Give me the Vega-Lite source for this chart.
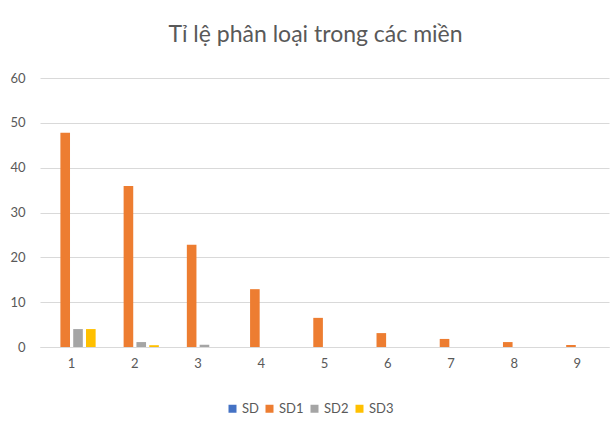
{
  "$schema": "https://vega.github.io/schema/vega-lite/v6.json",
  "width": 569,
  "height": 269,
  "autosize": {"type": "none"},
  "padding": {"left": 40, "top": 78, "right": 5, "bottom": 74},
  "background": "white",
  "title": {
    "text": "Tỉ lệ phân loại trong các miền",
    "font": "Lato",
    "fontSize": 23,
    "fontWeight": "normal",
    "color": "#595959",
    "anchor": "middle",
    "offset": 25,
    "dx": -9
  },
  "data": {
    "values": [
      {"mien": "1", "series": "SD", "value": 0},
      {"mien": "1", "series": "SD1", "value": 47.8},
      {"mien": "1", "series": "SD2", "value": 4.0},
      {"mien": "1", "series": "SD3", "value": 4.0},
      {"mien": "2", "series": "SD", "value": 0},
      {"mien": "2", "series": "SD1", "value": 35.9},
      {"mien": "2", "series": "SD2", "value": 1.1},
      {"mien": "2", "series": "SD3", "value": 0.4},
      {"mien": "3", "series": "SD", "value": 0},
      {"mien": "3", "series": "SD1", "value": 22.8},
      {"mien": "3", "series": "SD2", "value": 0.5},
      {"mien": "3", "series": "SD3", "value": 0},
      {"mien": "4", "series": "SD", "value": 0},
      {"mien": "4", "series": "SD1", "value": 12.9},
      {"mien": "4", "series": "SD2", "value": 0},
      {"mien": "4", "series": "SD3", "value": 0},
      {"mien": "5", "series": "SD", "value": 0},
      {"mien": "5", "series": "SD1", "value": 6.5},
      {"mien": "5", "series": "SD2", "value": 0},
      {"mien": "5", "series": "SD3", "value": 0},
      {"mien": "6", "series": "SD", "value": 0},
      {"mien": "6", "series": "SD1", "value": 3.1},
      {"mien": "6", "series": "SD2", "value": 0},
      {"mien": "6", "series": "SD3", "value": 0},
      {"mien": "7", "series": "SD", "value": 0},
      {"mien": "7", "series": "SD1", "value": 1.8},
      {"mien": "7", "series": "SD2", "value": 0},
      {"mien": "7", "series": "SD3", "value": 0},
      {"mien": "8", "series": "SD", "value": 0},
      {"mien": "8", "series": "SD1", "value": 1.1},
      {"mien": "8", "series": "SD2", "value": 0},
      {"mien": "8", "series": "SD3", "value": 0},
      {"mien": "9", "series": "SD", "value": 0},
      {"mien": "9", "series": "SD1", "value": 0.45},
      {"mien": "9", "series": "SD2", "value": 0},
      {"mien": "9", "series": "SD3", "value": 0}
    ]
  },
  "mark": {"type": "bar"},
  "encoding": {
    "x": {
      "field": "mien",
      "type": "nominal",
      "sort": null,
      "scale": {"paddingInner": 0.24, "paddingOuter": 0.12},
      "axis": {
        "title": null,
        "labelAngle": 0,
        "ticks": false,
        "domainColor": "#d9d9d9",
        "domainWidth": 1,
        "labelColor": "#595959",
        "labelFont": "Lato",
        "labelFontSize": 13,
        "labelPadding": 10,
        "grid": false
      }
    },
    "xOffset": {
      "field": "series",
      "type": "nominal",
      "sort": ["SD", "SD1", "SD2", "SD3"],
      "scale": {"paddingInner": 0.25}
    },
    "y": {
      "field": "value",
      "type": "quantitative",
      "scale": {"domain": [0, 60], "nice": false},
      "axis": {
        "title": null,
        "values": [0, 10, 20, 30, 40, 50, 60],
        "domain": false,
        "ticks": false,
        "gridColor": "#d9d9d9",
        "labelColor": "#595959",
        "labelFont": "Lato",
        "labelFontSize": 13,
        "labelPadding": 15
      }
    },
    "color": {
      "field": "series",
      "type": "nominal",
      "scale": {
        "domain": ["SD", "SD1", "SD2", "SD3"],
        "range": ["#4472C4", "#ED7D31", "#A5A5A5", "#FFC000"]
      },
      "legend": {
        "title": null,
        "orient": "none",
        "direction": "horizontal",
        "legendX": 186,
        "legendY": 324,
        "symbolType": "square",
        "symbolSize": 64,
        "symbolStrokeWidth": 0,
        "labelColor": "#595959",
        "labelFont": "Lato",
        "labelFontSize": 13,
        "columnPadding": 4,
        "labelOffset": 3
      }
    }
  },
  "config": {"view": {"stroke": null}}
}
